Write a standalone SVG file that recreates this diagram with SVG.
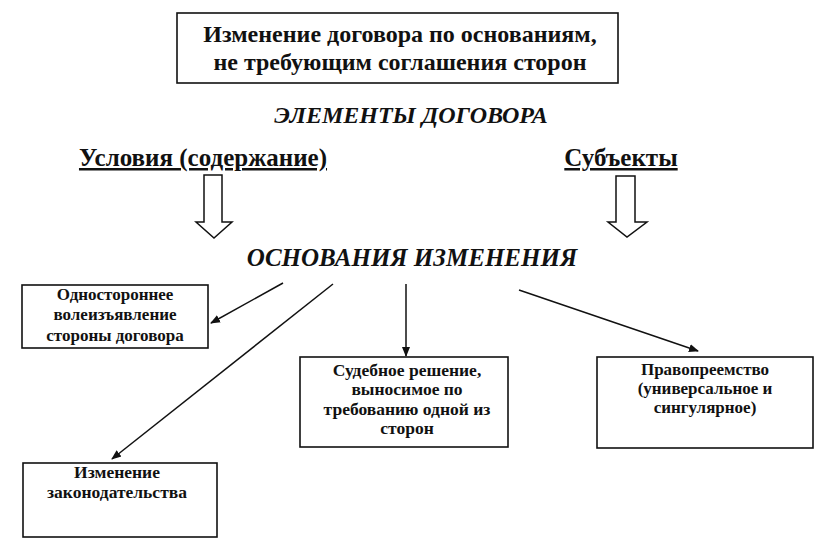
<svg xmlns="http://www.w3.org/2000/svg" width="833" height="548" viewBox="0 0 833 548">
<style>
text{font-family:'Liberation Serif','Times New Roman',serif;font-weight:bold;fill:#111;text-anchor:middle}
.h{font-size:24px}
.bx{fill:#fff;stroke:#111;stroke-width:1.6}
.c{stroke:#111;stroke-width:1.5;fill:none}
.ha{fill:#fff;stroke:#111;stroke-width:1.5}
</style>
<defs>
<marker id="ar" markerWidth="10" markerHeight="10" refX="9" refY="5" orient="auto" markerUnits="userSpaceOnUse">
<path d="M0,1 L10,5 L0,9 z" fill="#111"/>
</marker>
</defs>
<rect width="833" height="548" fill="#fff"/>
<g id="title">
<rect class="bx" x="177" y="13" width="441" height="70"/>
<text class="h" x="400" y="42">Изменение договора по основаниям,</text>
<text class="h" x="400" y="70">не требующим соглашения сторон</text>
</g>
<g id="elements">
<text x="411" y="123" font-size="24" font-style="italic">ЭЛЕМЕНТЫ ДОГОВОРА</text>
</g>
<g id="usloviya">
<text x="203" y="166" font-size="25" text-decoration="underline">Условия (содержание)</text>
</g>
<g id="subekty">
<text x="621" y="166" font-size="25" text-decoration="underline">Субъекты</text>
</g>
<g id="osnovaniya">
<text x="412" y="266" font-size="25" font-style="italic">ОСНОВАНИЯ  ИЗМЕНЕНИЯ</text>
</g>
<g id="box1" font-size="17">
<rect class="bx" x="22" y="285" width="186" height="63"/>
<text x="115" y="300">Одностороннее</text>
<text x="115" y="320">волеизъявление</text>
<text x="115" y="341">стороны договора</text>
</g>
<g id="box2" font-size="17.5">
<rect class="bx" x="300" y="357" width="208" height="90"/>
<text x="407" y="376">Судебное решение,</text>
<text x="407" y="395">выносимое по</text>
<text x="407" y="415">требованию одной из</text>
<text x="407" y="434">сторон</text>
</g>
<g id="box3" font-size="17">
<rect class="bx" x="597" y="357" width="216" height="91"/>
<text x="705" y="375">Правопреемство</text>
<text x="705" y="394">(универсальное и</text>
<text x="705" y="413">сингулярное)</text>
</g>
<g id="box4" font-size="17.5">
<rect class="bx" x="23" y="463" width="194" height="74"/>
<text x="117" y="478">Изменение</text>
<text x="117" y="498">законодательства</text>
</g>
<g id="connectors">
<path class="ha" d="M204,175 H222 V222 H232 L214,238 L196,222 H204 Z"/>
<path class="ha" d="M616,176 H635 V222 H647 L627,237 L608,222 H616 Z"/>
<line class="c" x1="283" y1="283" x2="211" y2="323" marker-end="url(#ar)"/>
<line class="c" x1="333" y1="284" x2="112" y2="459" marker-end="url(#ar)"/>
<line class="c" x1="406" y1="284" x2="406" y2="356" marker-end="url(#ar)"/>
<line class="c" x1="519" y1="290" x2="698" y2="351" marker-end="url(#ar)"/>
</g>
</svg>
